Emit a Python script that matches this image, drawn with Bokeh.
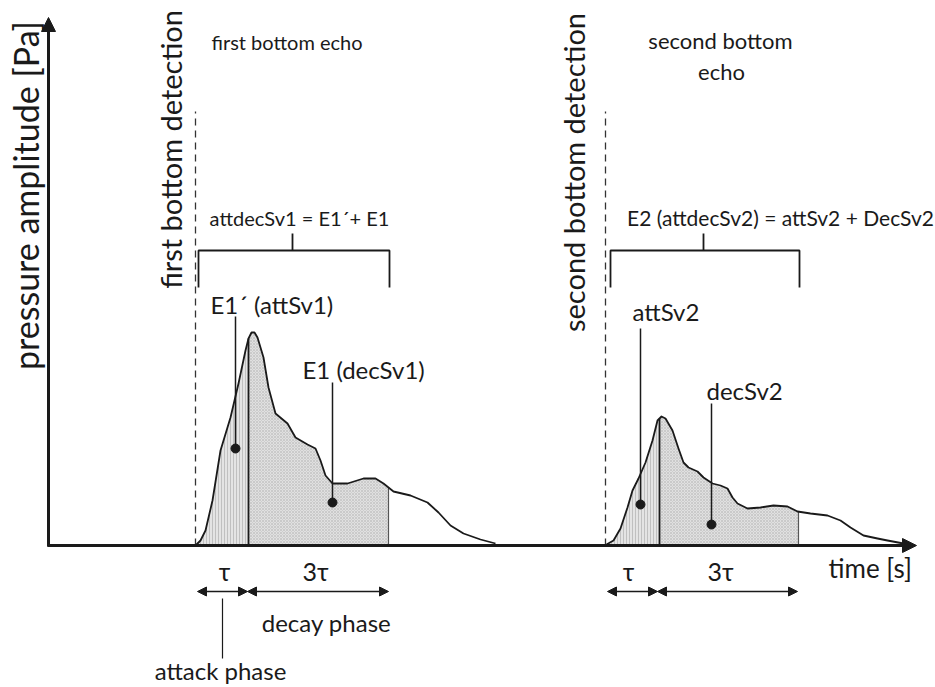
import numpy as np
from bokeh.plotting import figure
from bokeh.models import Range1d, Arrow, NormalHead
from bokeh.core.properties import value
from bokeh.embed import file_html
from bokeh.resources import INLINE

# ---------------- data (time units, amplitude units) ----------------
echo1_t = [147, 152, 157, 164, 172, 182, 190, 197, 200, 203, 206, 209, 215, 220, 227, 239, 247, 259,
           267, 272, 277, 284, 299, 315, 327, 335, 345, 362, 379, 390, 402, 415, 432, 447]
echo1_a = [0, 5, 15, 45, 95, 128, 162, 195, 207, 213, 213, 208, 188, 158, 132, 122, 108, 101,
           97, 85, 70, 62, 62, 67, 67, 62, 54, 50, 43, 33, 20, 12, 6, 2]
echo2_t = [558, 565, 572, 579, 584, 590, 597, 604, 609, 613, 617, 624, 630, 635, 640, 649,
           655, 664, 672, 679, 684, 689, 699, 712, 725, 739, 749, 762, 779, 792, 802, 815,
           829, 839, 855]
echo2_a = [1, 5, 17, 38, 55, 67, 83, 105, 125, 129, 127, 115, 97, 83, 78, 74,
           68, 62, 60, 57, 48, 42, 37, 38, 40, 39, 34, 32, 30, 25, 18, 10,
           7, 5, 2]
detect_t = [147, 557]          # bottom detection times
attack_end = [200, 611]        # end of attack phase (tau)
decay_end = [340, 750]         # end of decay phase (3 tau)

FONT = value("Lato")
INK = "#1a1a1a"

p = figure(width=935, height=687, output_backend="svg", toolbar_location=None,
           x_range=Range1d(-48, 887), y_range=Range1d(-142, 545),
           x_axis_type=None, y_axis_type=None, min_border=0)
p.outline_line_color = None
p.grid.visible = False
p.background_fill_color = "white"


def txt(x, y, s, size, align="left", angle=0.0):
    p.text(x=[x], y=[y], text=[s], text_font=FONT, text_font_size=size,
           text_align=align, text_baseline="middle", angle=angle, text_color=INK)


def region(t, a, t0, t1):
    t = np.asarray(t, float)
    a = np.asarray(a, float)
    m = (t > t0) & (t < t1)
    xs = [t0, t0] + list(t[m]) + [t1, t1]
    ys = [0, float(np.interp(t0, t, a))] + list(a[m]) + [float(np.interp(t1, t, a)), 0]
    return xs, ys


for t, a, d0, t_att, t_dec in [(echo1_t, echo1_a, detect_t[0], attack_end[0], decay_end[0]),
                                (echo2_t, echo2_a, detect_t[1], attack_end[1], decay_end[1])]:
    xs, ys = region(t, a, t[0], t_att)
    p.patch(xs, ys, fill_color="#e4e4e4", line_color=None,
            hatch_pattern="|", hatch_color="#a8a8a8", hatch_scale=3, hatch_weight=0.6)
    xs, ys = region(t, a, t_att, t_dec)
    p.patch(xs, ys, fill_color="#e0e0e0", line_color=None,
            hatch_pattern="x", hatch_color="#b4b4b4", hatch_scale=3, hatch_weight=0.5)
    p.segment(x0=[t_att], y0=[0], x1=[t_att], y1=[float(np.interp(t_att, t, a))],
              line_color=INK, line_width=1.8)
    p.segment(x0=[t_dec], y0=[0], x1=[t_dec], y1=[float(np.interp(t_dec, t, a))],
              line_color="#555555", line_width=1.2)
    p.line(t, a, line_color=INK, line_width=1.8, line_join="round")
    # detection dashed line
    p.segment(x0=[d0], y0=[0], x1=[d0], y1=[434], line_color="#333333",
              line_width=1.3, line_dash="7 5")

# axes
p.add_layout(Arrow(end=NormalHead(size=14, fill_color=INK, line_color=INK), x_start=-1, y_start=0,
                   x_end=868, y_end=0, line_width=3, line_color=INK))
p.add_layout(Arrow(end=NormalHead(size=14, fill_color=INK, line_color=INK), x_start=0, y_start=-1,
                   x_end=0, y_end=528, line_width=3, line_color=INK))

# brackets
for x0, x1, xs in [(150, 341, 244), (562, 751, 655)]:
    p.line([x0, x0, x1, x1], [258, 295, 295, 258], line_color=INK, line_width=1.8)
    p.segment(x0=[xs], y0=[295], x1=[xs], y1=[312], line_color=INK, line_width=1.8)

txt(251, 328, "attdecSv1 = E1\u00b4+ E1", "20px", align="center")
txt(732, 328, "E2 (attdecSv2) = attSv2 + DecSv2", "21px", align="center")

# leaders and dots
lead_x = [187, 284, 592, 663]
lead_top = [229, 163, 217, 142]
lead_dot = [97, 43, 41, 21]
p.segment(x0=lead_x, y0=lead_top, x1=lead_x, y1=lead_dot, line_color=INK, line_width=1.5)
p.scatter(lead_x, lead_dot, size=9, color=INK)

txt(162, 241, "E1\u00b4 (attSv1)", "24px")
txt(254, 176, "E1 (decSv1)", "24px")
txt(584, 234, "attSv2", "24px")
txt(658, 155, "decSv2", "24px")

# titles
txt(163, 504, "first bottom echo", "20px")
txt(672, 505, "second bottom", "22px", align="center")
txt(673, 474, "echo", "22px", align="center")
txt(122, 396, "first bottom detection", "29px", align="center", angle=np.pi / 2)
txt(525, 373, "second bottom detection", "29px", align="center", angle=np.pi / 2)
txt(-23, 350, "pressure amplitude [Pa]", "34px", align="center", angle=np.pi / 2)

# phase arrows
for a0, a1 in [(149, 199), (199, 340), (559, 609), (609, 749)]:
    yy = -46
    p.add_layout(Arrow(start=NormalHead(size=9, fill_color=INK, line_color=INK),
                       end=NormalHead(size=9, fill_color=INK, line_color=INK),
                       x_start=a0, y_start=yy, x_end=a1, y_end=yy, line_width=1.6, line_color=INK))

txt(176, -25, "\u03c4", "25px", align="center")
txt(267, -25, "3\u03c4", "25px", align="center")
txt(580, -25, "\u03c4", "25px", align="center")
txt(672, -25, "3\u03c4", "25px", align="center")
p.segment(x0=[174], y0=[-53], x1=[174], y1=[-113], line_color=INK, line_width=1.2)
txt(172, -125, "attack phase", "24px", align="center")
txt(278, -77, "decay phase", "24px", align="center")
txt(780, -22, "time [s]", "26px")

open("out.html", "w").write(file_html(p, INLINE))
